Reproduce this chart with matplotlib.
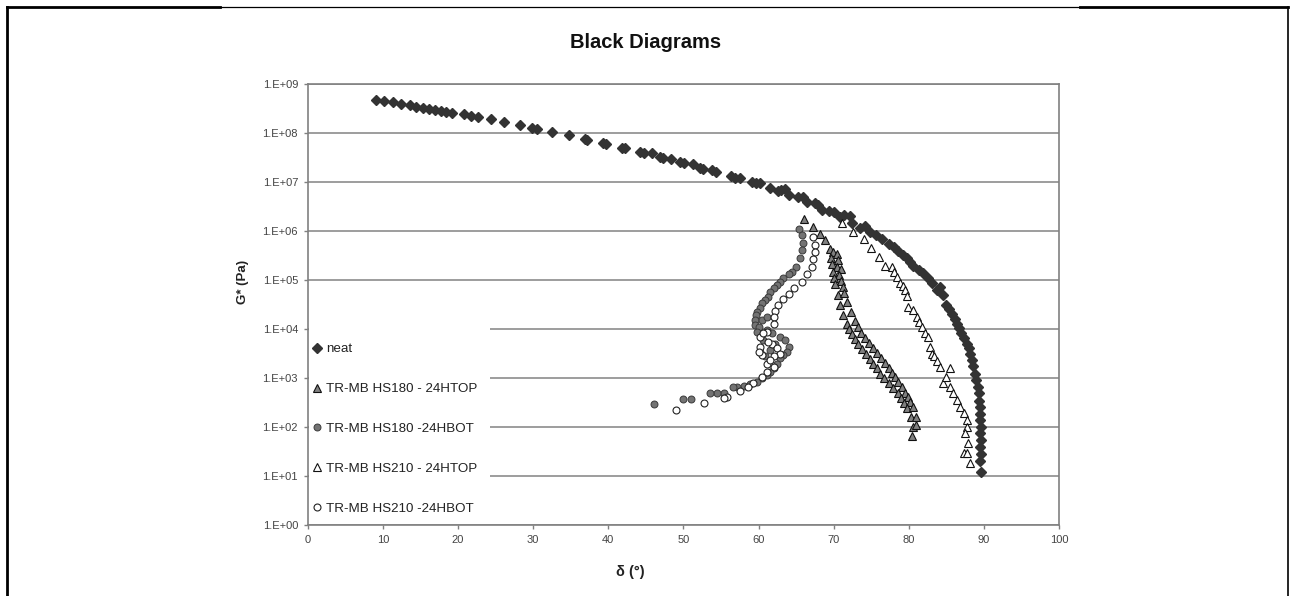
import numpy as np
import matplotlib
matplotlib.use("Agg")
import matplotlib.pyplot as plt
from matplotlib import font_manager
from matplotlib.lines import Line2D
from matplotlib.patches import Rectangle
from matplotlib.ticker import FuncFormatter, FixedLocator

# Arial-like font if installed
names = set(f.name for f in font_manager.fontManager.ttflist)
plain = "Liberation Sans" if "Liberation Sans" in names else "DejaVu Sans"

# ---- data (delta in degrees, G* in Pa) ----
neat_delta = [9.1, 10.2, 11.3, 12.4, 13.6, 14.4, 15.3, 16.2, 16.9, 17.7, 18.4, 19.2,
              20.8, 21.7, 22.6, 24.4, 26.1, 28.3, 29.9, 30.5, 32.5, 34.8, 36.9, 37.2,
              39.3, 39.7, 41.8, 42.2, 44.2, 44.7, 45.8, 46.9, 47.3, 48.4, 49.6, 50.1,
              51.3, 52.2, 52.6, 53.8, 54.3, 56.4, 56.9, 57.5, 59.1, 59.6, 60.2, 61.5,
              62.6, 63.0, 63.5, 64.1, 65.3, 65.9, 66.4, 67.5, 67.9, 68.4, 69.4, 70.0,
              70.9, 71.4, 72.2, 72.4, 73.5, 74.2, 74.9, 75.7, 76.5, 77.3, 78.0, 78.6,
              79.2, 79.7, 80.2, 80.6, 81.3, 81.9, 82.5, 83.1, 83.7, 84.2, 84.6, 85.0,
              85.4, 85.7, 86.1, 86.4, 86.7, 87.0, 87.4, 87.7, 88.0, 88.2, 88.4, 88.6,
              88.8, 89.0, 89.2, 89.3, 89.4, 89.5, 89.5, 89.5, 89.6, 89.5, 89.6, 89.5,
              89.6, 89.5, 89.6]
neat_g = [4.8e8, 4.6e8, 4.3e8, 4.0e8, 3.7e8, 3.5e8, 3.3e8, 3.2e8, 3.0e8, 2.9e8, 2.7e8, 2.6e8,
          2.45e8, 2.25e8, 2.1e8, 1.95e8, 1.7e8, 1.5e8, 1.3e8, 1.25e8, 1.07e8, 9.3e7, 7.6e7, 7.2e7,
          6.3e7, 6.1e7, 5.1e7, 5.0e7, 4.2e7, 4.0e7, 3.9e7, 3.3e7, 3.2e7, 3.0e7, 2.6e7, 2.45e7,
          2.35e7, 2.0e7, 1.9e7, 1.8e7, 1.65e7, 1.35e7, 1.25e7, 1.23e7, 1.02e7, 9.8e6, 9.5e6, 7.6e6,
          6.5e6, 6.8e6, 7.2e6, 5.5e6, 5.1e6, 5.0e6, 4.0e6, 3.7e6, 3.5e6, 2.7e6, 2.6e6, 2.5e6,
          2.0e6, 2.1e6, 2.05e6, 1.45e6, 1.15e6, 1.3e6, 9.5e5, 8.3e5, 6.8e5, 5.6e5, 4.8e5, 4.0e5,
          3.3e5, 2.8e5, 2.4e5, 2.0e5, 1.65e5, 1.4e5, 1.1e5, 8.7e4, 6.3e4, 7.4e4, 5.0e4, 3.2e4,
          2.6e4, 2.1e4, 1.65e4, 1.3e4, 1.05e4, 8.3e3, 6.6e3, 5.1e3, 4.1e3, 3.2e3, 2.4e3, 1.75e3,
          1.25e3, 9.3e2, 6.8e2, 4.9e2, 3.5e2, 2.6e2, 1.9e2, 1.4e2, 1.0e2, 7.6e1, 5.5e1, 4.0e1,
          2.9e1, 2.1e1, 1.25e1]

hs180top_delta = [66.0, 67.2, 68.2, 68.9, 69.5, 69.9, 70.4, 69.7, 70.6, 69.8, 70.5, 71.0,
                  69.9, 70.7, 70.1, 71.0, 70.2, 71.2, 70.6, 71.4, 70.9, 71.8, 71.3, 72.3,
                  71.8, 72.9, 72.0, 73.3, 72.4, 73.7, 72.8, 74.2, 73.3, 74.7, 73.8, 75.2,
                  74.3, 75.8, 74.8, 76.3, 75.3, 76.8, 75.8, 77.3, 76.2, 77.8, 76.7, 78.2,
                  77.3, 78.6, 77.9, 79.1, 78.5, 79.5, 79.0, 79.9, 79.4, 80.2, 79.8, 80.5,
                  80.3, 80.9, 80.6, 81.0, 80.4]
hs180top_g = [1.8e6, 1.25e6, 9.0e5, 6.5e5, 4.3e5, 3.7e5, 3.4e5, 2.9e5, 2.6e5, 2.2e5, 1.9e5, 1.7e5,
              1.5e5, 1.3e5, 1.1e5, 9.5e4, 8.3e4, 7.2e4, 5.0e4, 5.5e4, 3.2e4, 3.6e4, 2.0e4, 2.3e4,
              1.26e4, 1.5e4, 1.0e4, 1.1e4, 8.0e3, 8.6e3, 6.3e3, 6.6e3, 5.0e3, 5.2e3, 4.0e3, 4.1e3,
              3.2e3, 3.3e3, 2.5e3, 2.6e3, 2.0e3, 2.05e3, 1.6e3, 1.65e3, 1.25e3, 1.3e3, 1.0e3, 1.05e3,
              8.0e2, 8.3e2, 6.3e2, 6.6e2, 5.0e2, 5.1e2, 4.0e2, 4.1e2, 3.2e2, 3.3e2, 2.5e2, 2.6e2,
              1.6e2, 1.65e2, 1.0e2, 1.1e2, 6.6e1]

hs180bot_delta = [65.4, 65.8, 65.9, 65.8, 65.5, 65.0, 64.4, 64.0, 63.3, 62.9, 62.4, 62.0,
                  61.5, 61.3, 60.9, 60.4, 60.2, 59.8, 59.7, 59.5, 59.5, 60.0, 59.8, 62.9,
                  63.5, 64.0, 63.8, 63.3, 62.9, 62.4, 62.0, 61.5, 61.1, 60.4, 59.8, 58.9,
                  58.0, 57.1, 56.6, 55.4, 54.5, 53.6, 51.0, 50.0, 46.1, 61.1, 61.8, 62.2,
                  61.5, 60.9, 60.4, 61.1, 60.6, 60.2]
hs180bot_g = [1.1e6, 8.4e5, 5.7e5, 4.2e5, 2.8e5, 1.9e5, 1.5e5, 1.35e5, 1.1e5, 9.3e4, 8.0e4, 6.9e4,
              5.9e4, 4.6e4, 4.0e4, 3.4e4, 2.7e4, 2.3e4, 1.95e4, 1.55e4, 1.2e4, 1.1e4, 8.9e3, 7.1e3,
              6.0e3, 4.4e3, 3.5e3, 3.0e3, 2.6e3, 2.0e3, 1.6e3, 1.35e3, 1.17e3, 1.0e3, 8.5e2, 7.6e2,
              6.9e2, 6.6e2, 6.7e2, 5.1e2, 5.1e2, 4.9e2, 3.8e2, 3.8e2, 3.0e2, 9.8e3, 8.3e3, 5.1e3,
              3.8e3, 2.8e3, 1.55e4, 1.8e4, 6.0e3, 3.5e3]

hs210top_delta = [71.1, 72.6, 74.0, 75.0, 76.1, 76.8, 77.7, 78.0, 78.4, 78.8, 79.2, 79.5,
                  79.7, 79.9, 80.6, 81.1, 81.4, 81.7, 82.2, 82.6, 82.8, 83.1, 83.4, 83.7,
                  84.1, 84.6, 85.0, 85.5, 85.5, 85.9, 86.4, 86.8, 87.3, 87.7, 87.7, 87.5,
                  87.9, 87.3, 87.8, 88.2]
hs210top_g = [1.45e6, 9.8e5, 6.9e5, 4.5e5, 3.0e5, 1.95e5, 1.9e5, 1.5e5, 1.17e5, 8.7e4, 7.5e4, 6.3e4,
              4.7e4, 2.9e4, 2.45e4, 1.8e4, 1.4e4, 1.12e4, 8.3e3, 7.1e3, 4.4e3, 3.2e3, 2.8e3, 2.3e3,
              1.7e3, 8.0e2, 1.07e3, 1.6e3, 6.8e2, 4.9e2, 3.6e2, 2.6e2, 1.95e2, 1.4e2, 1.0e2, 7.6e1,
              4.7e1, 3.0e1, 3.0e1, 1.9e1]

hs210bot_delta = [67.3, 67.5, 67.5, 67.3, 67.1, 66.4, 65.8, 64.7, 64.1, 63.3, 62.6, 62.2,
                  62.1, 62.0, 61.1, 60.2, 60.2, 60.4, 61.1, 61.1, 60.4, 59.3, 58.6, 57.5,
                  55.8, 55.4, 52.7, 49.0, 61.8, 62.4, 62.9, 62.0, 61.5, 60.6, 60.0, 61.3,
                  62.0]
hs210bot_g = [7.6e5, 5.3e5, 3.8e5, 2.7e5, 1.85e5, 1.35e5, 9.3e4, 6.9e4, 5.2e4, 4.1e4, 3.2e4, 2.4e4,
              1.8e4, 1.3e4, 8.9e3, 7.1e3, 4.4e3, 3.0e3, 2.0e3, 1.35e3, 1.07e3, 7.9e2, 6.8e2, 5.6e2,
              4.2e2, 3.9e2, 3.1e2, 2.3e2, 5.1e3, 4.1e3, 3.2e3, 2.8e3, 2.4e3, 8.3e3, 3.5e3, 5.6e3,
              1.7e3]

labels = ["neat", "TR-MB HS180 - 24HTOP", "TR-MB HS180 -24HBOT",
          "TR-MB HS210 - 24HTOP", "TR-MB HS210 -24HBOT"]
y_ticks = [1e0, 1e1, 1e2, 1e3, 1e4, 1e5, 1e6, 1e7, 1e8, 1e9]
x_ticks = [0, 10, 20, 30, 40, 50, 60, 70, 80, 90, 100]

fig = plt.figure(figsize=(12.92, 5.96), dpi=100)
ax = fig.add_axes([0.2382, 0.1186, 0.5815, 0.7400])

ax.plot(neat_delta, neat_g, ls="none", marker="D", ms=4.6, mfc="#333333", mec="#333333",
        label=labels[0], zorder=3)
ax.plot(hs180top_delta, hs180top_g, ls="none", marker="^", ms=6, mfc="#808080", mec="#111111",
        mew=0.8, label=labels[1], zorder=3)
ax.plot(hs180bot_delta, hs180bot_g, ls="none", marker="o", ms=5, mfc="#737373", mec="#3a3a3a",
        mew=0.7, label=labels[2], zorder=3)
ax.plot(hs210top_delta, hs210top_g, ls="none", marker="^", ms=6, mfc="white", mec="#111111",
        mew=0.8, label=labels[3], zorder=3)
ax.plot(hs210bot_delta, hs210bot_g, ls="none", marker="o", ms=5, mfc="white", mec="#222222",
        mew=0.8, label=labels[4], zorder=3)

ax.set_yscale("log")
ax.set_xlim(0, 100)
ax.set_ylim(1e0, 1e9)
ax.yaxis.set_major_locator(FixedLocator(y_ticks))
ax.yaxis.set_minor_locator(FixedLocator([]))
ax.xaxis.set_major_locator(FixedLocator(x_ticks))
ax.yaxis.set_major_formatter(FuncFormatter(lambda v, p: "1.E+%02d" % round(np.log10(v))))
ax.grid(axis="y", color="#8c8c8c", lw=1.2, zorder=0.5)
ax.set_axisbelow(True)
for s in ax.spines.values():
    s.set_color("#808080")
    s.set_linewidth(1.2)
ax.tick_params(axis="both", direction="out", length=3, width=1, color="#808080",
               labelsize=8, labelcolor="#444444", pad=4)
for t in ax.get_xticklabels() + ax.get_yticklabels():
    t.set_family(plain)

# white patch behind the legend, hides the grid lines there
ax.add_patch(Rectangle((0.002, 0.003), 0.241, 0.463, transform=ax.transAxes,
                       facecolor="white", edgecolor="none", zorder=1))

leg = ax.legend(loc="lower left", bbox_to_anchor=(0.0, 0.012), frameon=False,
                handlelength=0.6, handletextpad=0.35, labelspacing=2.06, borderpad=0.4,
                borderaxespad=0.0, prop={"family": plain, "size": 9.6}, numpoints=1)
leg.set_zorder(5)
for t in leg.get_texts():
    t.set_color("#222222")

fig.text(0.5, 0.929, "Black Diagrams", ha="center", va="center", fontsize=14.5,
         fontweight="bold", family=plain, color="#111111")
fig.text(630 / 1292, 1 - 572 / 596, "δ (°)", ha="center", va="center", fontsize=10.5,
         fontweight="bold", family=[plain, "DejaVu Sans"], color="#222222")
fig.text(243 / 1292, 1 - 282 / 596, "G* (Pa)", ha="center", va="center", fontsize=9.5,
         fontweight="bold", family=plain, rotation=90, color="#222222")

# outer frame of the picture
k = "black"
fig.add_artist(Line2D([6.5 / 1292, 6.5 / 1292], [0, 1 - 6.5 / 596], color=k, lw=2.0))
fig.add_artist(Line2D([6.5 / 1292, 220 / 1292], [1 - 6.5 / 596] * 2, color=k, lw=2.0))
fig.add_artist(Line2D([220 / 1292, 1080 / 1292], [1 - 6.5 / 596] * 2, color=k, lw=0.9))
fig.add_artist(Line2D([1080 / 1292, 1288 / 1292], [1 - 6.5 / 596] * 2, color=k, lw=2.0))
fig.add_artist(Line2D([1287.5 / 1292, 1287.5 / 1292], [0, 1 - 6.5 / 596], color=k, lw=1.2))

fig.savefig("out.png", dpi=100)
